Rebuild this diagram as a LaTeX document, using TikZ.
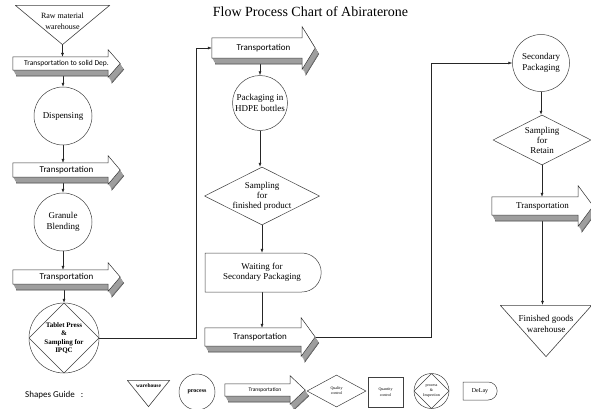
\documentclass[tikz,border=0pt]{standalone}
\usepackage{fontspec}
\setmainfont{Liberation Serif}
\newfontfamily\calib{Carlito}
\usetikzlibrary{shapes.geometric,shapes.misc,arrows.meta,backgrounds,calc}
\pgfdeclarelayer{lines}
\pgfsetlayers{lines,background,main}

\tikzset{
  conn/.style={draw=black!85, line width=0.5pt, -{Latex[length=4pt,width=3pt]}},
  lbl/.style={align=center, inner sep=0pt, font=\fontsize{9}{10.5}\selectfont},
  process/.style={lbl, circle, draw=black!75, line width=0.5pt, fill=white, minimum size=#1},
  inspect/.style={process=#1, path picture={
      \draw[black!75, line width=0.5pt] (path picture bounding box.north) -- (path picture bounding box.east)
        -- (path picture bounding box.south) -- (path picture bounding box.west) -- cycle;}},
  warehouse/.style 2 args={lbl, minimum width=#1, minimum height=#2, path picture={
      \draw[black!75, line width=0.6pt] ($(path picture bounding box.north west)+(0.3,0.3)$)
        -- ($(path picture bounding box.north east)+(-0.3,0.3)$)
        -- ($(path picture bounding box.south)+(0,-0.4)$) -- cycle;}},
  quality/.style 2 args={lbl, diamond, aspect=2, draw=black!75, line width=0.5pt, fill=white,
      minimum width=#1, minimum height=#2},
  delaybox/.style 2 args={lbl, rounded rectangle, rounded rectangle left arc=none, draw=black!75,
      line width=0.5pt, fill=white, minimum width=#1, minimum height=#2},
  transport/.style 2 args={lbl, font=\calib\fontsize{9}{10}\selectfont, minimum width=#1, minimum height=#2},
}

% outline of a 3D transport arrow round a node: #1 node, #2 head overhang, #3 head length
\newcommand{\transportpath}[3]{(#1.north west) -- ($(#1.north east)+(-#3,0)$) -- ++(0,-#2) -- (#1.east)
  -- ($(#1.south east)+(-#3,#2)$) -- ++(0,-#2) -- (#1.south west) -- cycle}
\newcommand{\transportshape}[3]{%
  \begin{pgfonlayer}{background}
    \begin{scope}[transform canvas={shift={(3.6pt,-6pt)}}]
      \fill[black!50, draw=black!70, line width=0.4pt] \transportpath{#1}{#2}{#3};
    \end{scope}
    \foreach \k in {5,...,1}{
      \begin{scope}[transform canvas={shift={({0.6pt*\k},{-1pt*\k})}}]
        \fill[black!38] \transportpath{#1}{#2}{#3};
      \end{scope}}
    \draw[black!80, line width=0.5pt, fill=white] \transportpath{#1}{#2}{#3};
  \end{pgfonlayer}}

\begin{document}
\begin{tikzpicture}[x=1pt,y=-1pt]
\useasboundingbox (0,0) rectangle (591,408);

% title
\node[font=\fontsize{14}{16}\selectfont] (title) at (310.5,12) {Flow Process Chart of Abiraterone};

% first column
\node[warehouse={95pt}{40pt}] (rawwh) at (62.5,25) {};
\node[lbl, font=\fontsize{8}{10.5}\selectfont] (rawwh text) at ([yshift=3.5pt]rawwh.center) {Raw material\\warehouse};
\node[transport={107pt}{13pt}, font=\calib\fontsize{7.5}{9}\selectfont] (t1) at (66.5,63.5) {Transportation to solid Dep.};
\transportshape{t1}{7}{12}
\node[process=58pt] (disp) at (63,116) {Dispensing};
\node[transport={107pt}{14pt}] (t2) at (66.5,170) {Transportation};
\transportshape{t2}{7}{12}
\node[process=58pt] (gran) at (63,222) {Granule\\Blending};
\node[transport={107pt}{14pt}] (t3) at (66.5,277) {Transportation};
\transportshape{t3}{7}{12}
\node[inspect=70pt, font=\bfseries\fontsize{7}{8.3}\selectfont] (tab) at (64,338) {Tablet Press\\\&\\Sampling for\\IPQC};
\coordinate (jog1) at (196,338);

% second column
\node[transport={103pt}{20pt}] (t4) at (263.5,48) {Transportation};
\transportshape{t4}{11}{13}
\node[process=55pt] (pack) at (260,103) {Packaging in\\HDPE bottles};
\node[quality={113pt}{58pt}, font=\fontsize{9}{10}\selectfont] (sfp) at (262,196) {Sampling\\for\\finished product};
\node[delaybox={116pt}{39pt}] (wait) at (262,272.5) {Waiting for\\Secondary Packaging};
\node[transport={110pt}{18pt}] (t5) at (260,337) {Transportation};
\transportshape{t5}{10}{14}
\coordinate (jog2) at (431,338);

% third column
\node[process=57pt] (secp) at (541,63) {Secondary\\Packaging};
\node[quality={98pt}{50pt}, font=\fontsize{9}{10}\selectfont] (sfr) at (542,140) {Sampling\\for\\Retain};
\node[transport={101pt}{18pt}, font=\fontsize{9}{10}\selectfont] (t6) at (542.5,206) {Transportation};
\transportshape{t6}{11}{15}
\node[warehouse={92pt}{52pt}] (fgw) at (546,331) {};
\node[lbl] (fgw text) at ([yshift=7pt]fgw.center) {Finished goods\\warehouse};

% shapes guide
\node[lbl, anchor=west, font=\calib\fontsize{9}{10}\selectfont] (guide) at (25,395) {Shapes Guide\ \ \ :};
\node[warehouse={43pt}{27pt}] (lw) at (148.5,393.5) {};
\node[lbl, font=\bfseries\fontsize{5.5}{6}\selectfont] (lw text) at ([yshift=8pt]lw.center) {warehouse};
\node[process=36pt, font=\bfseries\fontsize{6}{7}\selectfont] (lp) at (197,392) {process};
\node[transport={80pt}{12pt}, font=\calib\fontsize{5.5}{6}\selectfont] (lt) at (265,390) {Transportation};
\transportshape{lt}{8}{15}
\node[quality={59pt}{32pt}, font=\fontsize{4}{5}\selectfont] (lq) at (336.5,391) {Quality\\control};
\node[lbl, draw=black!75, line width=0.5pt, minimum width=35pt, minimum height=30pt, font=\fontsize{4}{6}\selectfont] (lqc) at (385.5,392) {Quantity\\control};
\node[inspect=35pt, font=\fontsize{4}{5}\selectfont] (li) at (431.5,391) {process\\\&\\Inspection};
\node[delaybox={34pt}{18pt}, font=\fontsize{6}{7}\selectfont] (ld) at (480,391) {DeLay};

% connectors
\begin{pgfonlayer}{lines}
  \draw[conn] (rawwh.south) -- (rawwh.south |- t1.north);
  \draw[conn] (disp.north |- t1.south) -- (disp.north);
  \draw[conn] (disp.south) -- (disp.south |- t2.north);
  \draw[conn] (gran.north |- t2.south) -- (gran.north);
  \draw[conn] (gran.south) -- (gran.south |- t3.north);
  \draw[conn] (tab.north |- t3.south) -- (tab.north);
  \draw[conn] (tab.east) -| (jog1 |- t4.west) -- (t4.west);
  \draw[conn] (pack.north |- t4.south) -- (pack.north);
  \draw[conn] (pack.south) -- (pack.south |- sfp.north);
  \draw[conn] (sfp.south) -- (sfp.south |- wait.north);
  \draw[conn] (wait.south) -- (wait.south |- t5.north);
  \draw[conn] (t5.east) -| (jog2 |- secp.west) -- (secp.west);
  \draw[conn] (secp.south) -- (secp.south |- sfr.north);
  \draw[conn] (sfr.south) -- (sfr.south |- t6.north);
  \draw[conn] (t6.south) -- (t6.south |- fgw.north);
\end{pgfonlayer}
\end{tikzpicture}
\end{document}
